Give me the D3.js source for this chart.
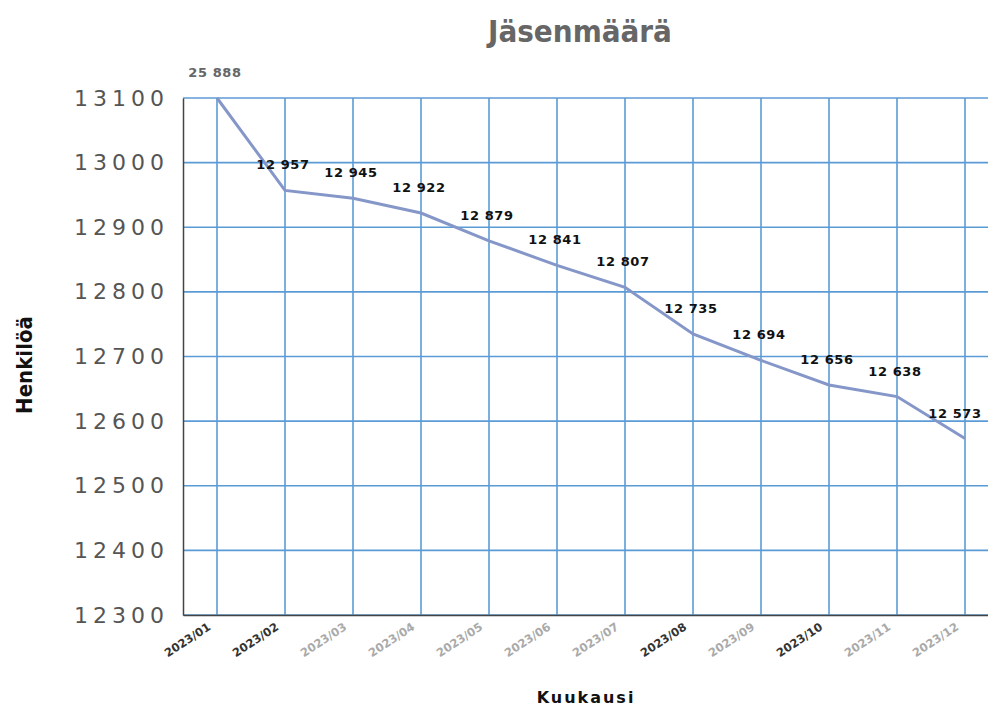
<!DOCTYPE html>
<html>
<head>
<meta charset="utf-8">
<script src="https://cdn.jsdelivr.net/npm/d3@7"></script>
<style>
	body { margin: 0; background: #fff; }
	svg { display: block; }
</style>
</head>
<body>
<div id="chart"></div>
<script>
var months = ["2023/01", "2023/02", "2023/03", "2023/04", "2023/05", "2023/06",
	"2023/07", "2023/08", "2023/09", "2023/10", "2023/11", "2023/12"];
var members = [25888, 12957, 12945, 12922, 12879, 12841, 12807, 12735, 12694, 12656, 12638, 12573];
var yTicks = [12300, 12400, 12500, 12600, 12700, 12800, 12900, 13000, 13100];
var darkTickLabels = ["2023/01", "2023/02", "2023/08", "2023/10"];

var width = 988, height = 709;
var margin = {top: 98, right: -11, bottom: 94, left: 183};

var svg = d3.select("#chart").append("svg")
	.attr("width", width).attr("height", height);

var x = d3.scalePoint().domain(months)
	.range([margin.left, width - margin.right]).padding(0.5);
var y = d3.scaleLinear().domain([12300, 13100])
	.range([height - margin.bottom, margin.top]).clamp(true);

var fmt = function(v) { return d3.format(",")(v).replace(",", " "); };

// grid
svg.append("g").selectAll("line.h").data(yTicks).enter().append("line")
	.attr("x1", margin.left).attr("x2", width)
	.attr("y1", function(d) { return y(d); }).attr("y2", function(d) { return y(d); })
	.attr("stroke", "#5b9bd5").attr("stroke-width", 1.6);

svg.append("g").selectAll("line.v").data(months).enter().append("line")
	.attr("x1", function(d) { return x(d); }).attr("x2", function(d) { return x(d); })
	.attr("y1", margin.top).attr("y2", height - margin.bottom)
	.attr("stroke", "#5b9bd5").attr("stroke-width", 1.6);

// axes
var yAxis = svg.append("g").attr("transform", "translate(" + margin.left + ",0)")
	.call(d3.axisLeft(y).tickValues(yTicks).tickSize(0).tickPadding(14)
		.tickFormat(d3.format("d")));
yAxis.select(".domain").attr("stroke", "#444").attr("stroke-width", 1.5);
yAxis.selectAll("text").attr("fill", "#555")
	.style("font-family", "DejaVu Sans").style("font-size", "22px")
	.style("letter-spacing", "5px");

var xAxis = svg.append("g").attr("transform", "translate(0," + (height - margin.bottom) + ")")
	.call(d3.axisBottom(x).tickSize(0).tickPadding(0));
xAxis.select(".domain").attr("stroke", "#444").attr("stroke-width", 1.5);
xAxis.selectAll("text")
	.attr("text-anchor", "end")
	.attr("transform", "translate(-6,14) rotate(-33)")
	.attr("dy", "0")
	.attr("fill", function(d) { return darkTickLabels.indexOf(d) >= 0 ? "#333" : "#aaa"; })
	.style("font-family", "DejaVu Sans").style("font-size", "11.5px")
	.style("font-weight", "bold");

// line
var line = d3.line()
	.x(function(d, i) { return x(months[i]); })
	.y(function(d) { return y(d); });

svg.append("path").datum(members)
	.attr("d", line)
	.attr("fill", "none")
	.attr("stroke", "#8596c8")
	.attr("stroke-width", 3);

// value labels (last one kept inside the picture)
svg.append("g").selectAll("text").data(members).enter().append("text")
	.attr("x", function(d, i) { return Math.min(x(months[i]) - 2, width - 33); })
	.attr("y", function(d) { return y(d) - 21; })
	.attr("text-anchor", "middle")
	.attr("fill", function(d, i) { return i === 0 ? "#666" : "#111"; })
	.style("font-family", "DejaVu Sans").style("font-size", "13px")
	.style("font-weight", "bold").style("letter-spacing", "0.6px")
	.text(fmt);

// titles
svg.append("text").attr("x", 580).attr("y", 42)
	.attr("text-anchor", "middle").attr("fill", "#666")
	.style("font-family", "DejaVu Sans Condensed, DejaVu Sans").style("font-weight", "bold")
	.style("font-size", "31px").text("Jäsenmäärä");

svg.append("text").attr("x", 586).attr("y", 703)
	.attr("text-anchor", "middle").attr("fill", "#111")
	.style("font-family", "DejaVu Sans").style("font-weight", "bold")
	.style("font-size", "16px").style("letter-spacing", "2px").text("Kuukausi");

svg.append("text")
	.attr("transform", "translate(32,365) rotate(-90)")
	.attr("text-anchor", "middle").attr("fill", "#111")
	.style("font-family", "DejaVu Sans Condensed, DejaVu Sans").style("font-weight", "bold")
	.style("font-size", "22px").text("Henkilöä");
</script>
</body>
</html>
